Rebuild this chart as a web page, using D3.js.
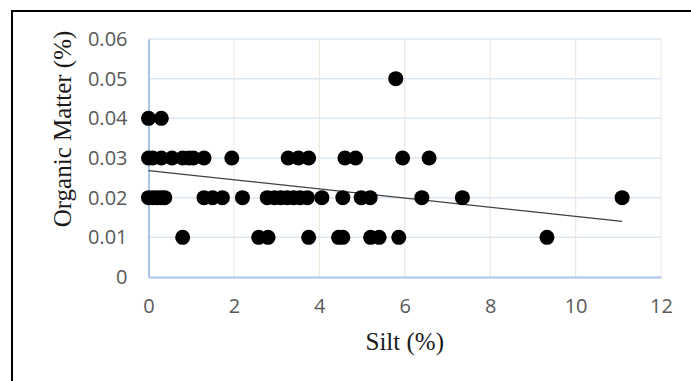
<!DOCTYPE html>
<html>
<head>
<meta charset="utf-8">
<script src="https://cdn.jsdelivr.net/npm/d3@7"></script>
<style>
  body { margin: 0; background: #fff; }
</style>
</head>
<body>
<div id="chart"></div>
<script>
// silt (%) and organic matter (%), grouped by OM level
const silt = [
  0.0, 0.3,
  5.79,
  0.0, 0.1, 0.3, 0.55, 0.8, 0.95, 1.05, 1.3, 1.95, 3.27, 3.51, 3.75, 4.6, 4.85, 5.95, 6.57,
  0.0, 0.1, 0.2, 0.3, 0.38, 1.3, 1.5, 1.73, 2.2, 2.78, 2.95, 3.1, 3.25, 3.4, 3.55, 3.72, 4.06, 4.55, 4.98, 5.19, 6.4, 7.35, 11.09,
  0.8, 2.58, 2.8, 3.75, 4.45, 4.55, 5.2, 5.4, 5.86, 9.33
];
const organicMatter = [
  0.04, 0.04,
  0.05,
  0.03, 0.03, 0.03, 0.03, 0.03, 0.03, 0.03, 0.03, 0.03, 0.03, 0.03, 0.03, 0.03, 0.03, 0.03, 0.03,
  0.02, 0.02, 0.02, 0.02, 0.02, 0.02, 0.02, 0.02, 0.02, 0.02, 0.02, 0.02, 0.02, 0.02, 0.02, 0.02, 0.02, 0.02, 0.02, 0.02, 0.02, 0.02, 0.02,
  0.01, 0.01, 0.01, 0.01, 0.01, 0.01, 0.01, 0.01, 0.01, 0.01
];
const xTicks = [0, 2, 4, 6, 8, 10, 12];
const yTicks = [0, 0.01, 0.02, 0.03, 0.04, 0.05, 0.06];
const yTickLabels = ["0", "0.01", "0.02", "0.03", "0.04", "0.05", "0.06"];
// linear trend line (Excel style)
const trendIntercept = 0.0268;
const trendSlope = -0.00115;

const width = 691, height = 381;
const margin = { top: 39, right: 30, bottom: 104, left: 148.5 };
const innerWidth = width - margin.left - margin.right;
const innerHeight = height - margin.top - margin.bottom;

const svg = d3.select("#chart").append("svg")
  .attr("width", width)
  .attr("height", height);

svg.append("rect").attr("width", width).attr("height", height).attr("fill", "#fff");

// black frame at top and left
svg.append("path")
  .attr("d", `M12,${height} V11 H${width}`)
  .attr("fill", "none")
  .attr("stroke", "#000")
  .attr("stroke-width", 2);

const plotArea = svg.append("g")
  .attr("transform", `translate(${margin.left},${margin.top})`);

const x = d3.scaleLinear().domain([0, 12]).range([0, innerWidth]);
const y = d3.scaleLinear().domain([0, 0.06]).range([innerHeight, 0]);

// vertical gridlines
plotArea.append("g")
  .selectAll("line")
  .data(xTicks.slice(1))
  .join("line")
  .attr("x1", d => x(d)).attr("x2", d => x(d))
  .attr("y1", 0).attr("y2", innerHeight)
  .attr("stroke", "#eceadf")
  .attr("stroke-width", 1.2);

// horizontal gridlines
plotArea.append("g")
  .selectAll("line")
  .data(yTicks.slice(1))
  .join("line")
  .attr("x1", 0).attr("x2", innerWidth)
  .attr("y1", d => y(d)).attr("y2", d => y(d))
  .attr("stroke", "#dde7f3")
  .attr("stroke-width", 1.5);

// axes lines
const xAxis = plotArea.append("g")
  .attr("transform", `translate(0,${innerHeight})`)
  .call(d3.axisBottom(x).tickValues(xTicks).tickSize(0).tickPadding(22));
const yAxis = plotArea.append("g")
  .call(d3.axisLeft(y).tickValues(yTicks).tickSize(0).tickPadding(21)
    .tickFormat((d, i) => yTickLabels[i]));

[xAxis, yAxis].forEach(a => {
  a.select(".domain").attr("stroke", "#a9c4e6").attr("stroke-width", 2);
  a.selectAll("text")
    .attr("fill", "#595959")
    .style("font-family", "'Open Sans', 'Liberation Sans', sans-serif")
    .style("font-size", "20px");
});

// trend line
const trendData = [0, d3.max(silt)].map(s => ({ s: s, om: trendIntercept + trendSlope * s }));
plotArea.append("path")
  .datum(trendData)
  .attr("fill", "none")
  .attr("stroke", "#404040")
  .attr("stroke-width", 1.3)
  .attr("d", d3.line().x(d => x(d.s)).y(d => y(d.om)));

// points
plotArea.append("g")
  .selectAll("circle")
  .data(d3.range(silt.length))
  .join("circle")
  .attr("cx", i => x(silt[i]))
  .attr("cy", i => y(organicMatter[i]))
  .attr("r", 7.5)
  .attr("fill", "#000");

// axis titles
svg.append("text")
  .attr("x", margin.left + innerWidth / 2)
  .attr("y", 350)
  .attr("text-anchor", "middle")
  .style("font-family", "'Liberation Serif', 'Times New Roman', serif")
  .style("font-size", "25px")
  .attr("fill", "#1a1a1a")
  .text("Silt (%)");

svg.append("text")
  .attr("transform", `translate(71,${margin.top + 90}) rotate(-90)`)
  .attr("text-anchor", "middle")
  .style("font-family", "'Liberation Serif', 'Times New Roman', serif")
  .style("font-size", "25px")
  .attr("fill", "#1a1a1a")
  .text("Organic Matter (%)");
</script>
</body>
</html>
